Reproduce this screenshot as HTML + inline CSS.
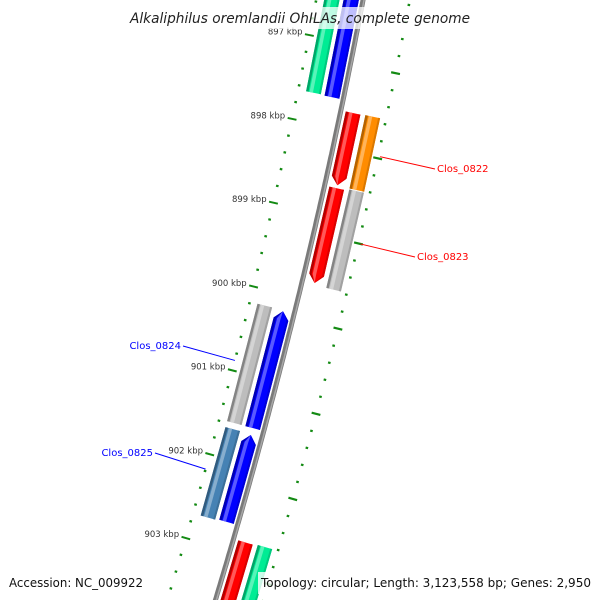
<!DOCTYPE html>
<html><head><meta charset="utf-8"><style>
html,body{margin:0;padding:0;background:#fff;width:600px;height:600px;overflow:hidden;}
svg{display:block;font-family:"DejaVu Sans","Liberation Sans",sans-serif;}
</style></head><body>
<svg id="map" width="600" height="600" viewBox="0 0 600 600" xmlns="http://www.w3.org/2000/svg">
<g id="ruler"></g>
<g id="backbone"></g>
<g id="genes"></g>
<g id="labels"></g>
<rect x="126" y="7" width="348" height="22" fill="#fff" opacity="0.75"/>
<text x="130" y="23" font-size="14" font-style="italic" fill="#222" textLength="340" lengthAdjust="spacingAndGlyphs">Alkaliphilus oremlandii OhILAs, complete genome</text>
<rect x="258" y="572" width="336" height="22" fill="#fff" opacity="0.8"/>
<text x="9" y="587" font-size="12.5" fill="#111" textLength="134" lengthAdjust="spacingAndGlyphs">Accession: NC_009922</text>
<text x="261" y="587" font-size="12.5" fill="#111" textLength="330" lengthAdjust="spacingAndGlyphs">Topology: circular; Length: 3,123,558 bp; Genes: 2,950</text>
</svg>
<script>
const geneStarts=[896400,896400,897787,897781,898675,898657,900183,900195,901651,901663,902858,902846];
const geneEnds=[897651,897657,898639,898645,899793,899817,901580,901580,902704,902692,903780,903780];
const geneTracks=["leftFar","leftNear","rightNear","rightFar","rightNear","rightFar","leftFar","leftNear","leftFar","leftNear","rightNear","rightFar"];
const geneColors=["#00ec94","#0000ff","#ff0000","#ff8c00","#ff0000","#bdbdbd","#bdbdbd","#0000ff","#4682b4","#0000ff","#ff0000","#00ec94"];
const geneArrows=["none","none","end","none","end","none","none","start","none","start","end","none"];
const labelNames=["Clos_0822","Clos_0823","Clos_0824","Clos_0825"];
const labelGenes=[3,5,6,8];
const labelColors=["#ff0000","#ff0000","#0000ff","#0000ff"];
const labelX=[437,417,181,153];
const labelY=[172,260,349,456];
const majorKbp=[897,898,899,900,901,902,903];
const rightPhase=237;

const NS="http://www.w3.org/2000/svg";
const PXPERBP=0.0845, BP0=897000, Y0=44;
function yOf(bp){return Y0+(bp-BP0)*PXPERBP;}
function xb(y){return 363-0.19*y-0.0000933*y*y;}
function pt(bp,off){const y=yOf(bp);const s=0.19+2*0.0000933*y;const n=Math.sqrt(1+s*s);return [xb(y)+off/n,y+off*s/n];}
const trackOff={leftFar:[-38,-23],leftNear:[-19,-4],rightNear:[5,20],rightFar:[25,40]};
function mk(tag,attrs,parent){const e=document.createElementNS(NS,tag);for(const k in attrs)e.setAttribute(k,attrs[k]);parent.appendChild(e);return e;}
function poly(pts){return pts.map(p=>p[0].toFixed(1)+","+p[1].toFixed(1)).join(" ");}

const bb=document.getElementById('backbone');
let d="";for(let bp=896300;bp<=903900;bp+=50){const p=pt(bp,0);d+=(d?"L":"M")+p[0].toFixed(1)+" "+p[1].toFixed(1);}
let e=mk('path',{d:d,stroke:"#7a7a7a","stroke-width":5,fill:"none"},bb);


e=mk('path',{d:d,stroke:"#a8a8a8","stroke-width":1.5,fill:"none",transform:"translate(1,0)"},bb);



const rg=document.getElementById('ruler');
for(let bp=896200;bp<=903800;bp+=200){
  const major=(bp%1000===0);
  const c=-46, L=major?4.5:1.3;
  const a=pt(bp,c-L),b=pt(bp,c+L);
  e=mk('line',{x1:a[0],y1:a[1],x2:b[0],y2:b[1],stroke:"#138a13","stroke-width":major?2:2.2},rg);
  
  
}
majorKbp.forEach(k=>{const p=pt(k*1000,-53);
  e=mk('text',{x:p[0].toFixed(1),y:(p[1]+1).toFixed(1),"text-anchor":"end","font-size":8.5,fill:"#333"},rg);
  e.textContent=k+" kbp";
  
  
});
for(let bp=896000+rightPhase;bp<=903800;bp+=200){
  const major=((bp-rightPhase)%1000===0);
  const c=46, L=major?4.5:1.3;
  const a=pt(bp,c-L),b=pt(bp,c+L);
  e=mk('line',{x1:a[0],y1:a[1],x2:b[0],y2:b[1],stroke:"#138a13","stroke-width":2.2},rg);
  
  
}

const gg=document.getElementById('genes');
function shade(hex,f){const n=parseInt(hex.slice(1),16);let r=n>>16,g=(n>>8)&255,b=n&255;
  if(f>0){r+= (255-r)*f;g+=(255-g)*f;b+=(255-b)*f;}else{r*=1+f;g*=1+f;b*=1+f;}
  return "rgb("+Math.round(r)+","+Math.round(g)+","+Math.round(b)+")";}
geneStarts.forEach((s,i)=>{
  const en=geneEnds[i],[o1,o2]=trackOff[geneTracks[i]],col=geneColors[i],arr=geneArrows[i];
  const tip=8/PXPERBP;
  function shape(a,b){let p=[];
    if(arr==="start"){p=[pt(s+tip,a),pt(s,(o1+o2)/2),pt(s+tip,b),pt(en,b),pt(en,a)];}
    else if(arr==="end"){p=[pt(s,a),pt(s,b),pt(en-tip,b),pt(en,(o1+o2)/2),pt(en-tip,a)];}
    else p=[pt(s,a),pt(s,b),pt(en,b),pt(en,a)];
    return p;}
  const g=mk('g',{},gg);
  
  
  mk('polygon',{points:poly(shape(o1,o2)),fill:col},g);
  mk('polygon',{points:poly(shape(o1,o1+2.5)),fill:shade(col,-0.3)},g);
  mk('polygon',{points:poly(shape(o1+3.5,o1+7)),fill:shade(col,0.35)},g);
  mk('polygon',{points:poly(shape(o2-2,o2)),fill:shade(col,-0.15)},g);
});

const lg=document.getElementById('labels');
labelNames.forEach((nm,j)=>{
  const i=labelGenes[j],[o1,o2]=trackOff[geneTracks[i]];
  const mid=(geneStarts[i]+geneEnds[i])/2;
  const right=o1>0;
  const p=pt(mid,right?o2+8:o1-8);
  const lx=right?labelX[j]-2:labelX[j]+2;
  e=mk('line',{x1:p[0],y1:p[1],x2:lx,y2:labelY[j]-3,stroke:labelColors[j],"stroke-width":1},lg);
  
  
  e=mk('text',{x:labelX[j],y:labelY[j],"text-anchor":right?"start":"end","font-size":10,fill:labelColors[j]},lg);
  e.textContent=nm;
  
  
});
</script>
</body></html>
